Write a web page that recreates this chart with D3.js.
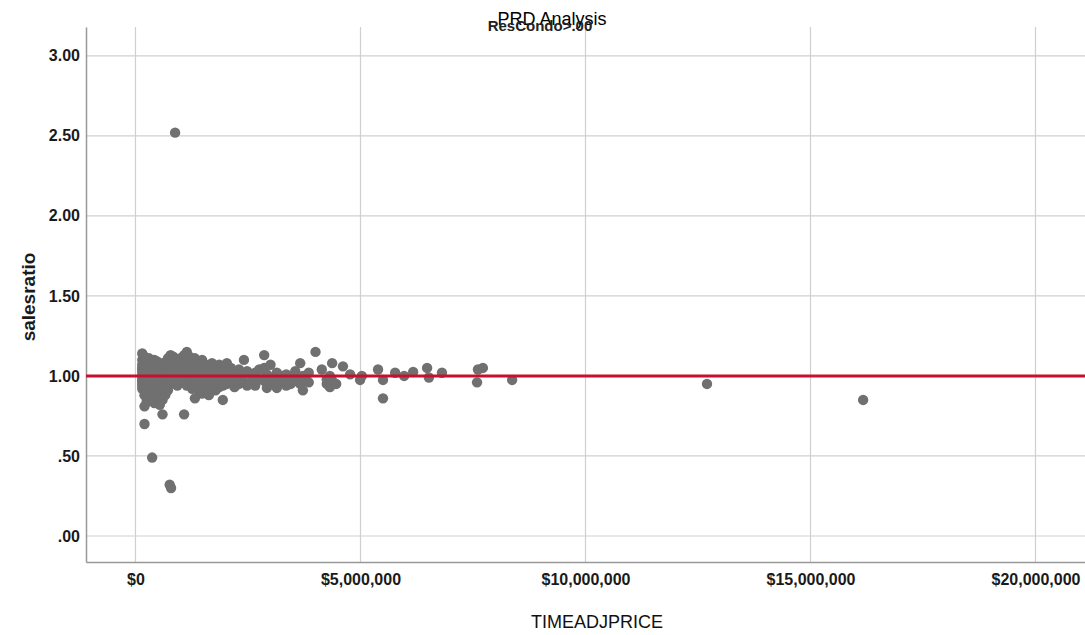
<!DOCTYPE html>
<html>
<head>
<meta charset="utf-8">
<script src="https://cdn.jsdelivr.net/npm/d3@7"></script>
<style>
  html, body { margin: 0; padding: 0; background: #ffffff; }
  svg { display: block; font-family: "Liberation Sans", Arial, sans-serif; }
</style>
</head>
<body>
<svg id="chart" width="1085" height="635"></svg>
<script>
// Sale price (time adjusted, millions of $) and sales ratio for each sale
const priceM = [
  0.15,0.15,0.15,0.15,0.15,0.15,0.15,0.15,0.15,0.15,0.15,0.15,
  0.20,0.20,0.20,0.20,0.20,0.20,0.20,0.20,0.20,0.20,0.20,
  0.25,0.25,0.25,0.25,0.25,0.25,0.25,0.25,0.25,
  0.30,0.30,0.30,0.30,0.30,0.30,0.30,0.30,
  0.37,0.37,0.37,0.37,0.37,0.37,0.37,0.37,0.37,
  0.42,0.42,0.42,0.42,0.42,0.42,0.42,
  0.48,0.48,0.48,0.48,0.48,0.48,0.48,
  0.54,0.54,0.54,0.54,0.54,0.54,0.54,
  0.60,0.60,0.60,0.60,0.60,0.60,0.60,
  0.66,0.66,0.66,0.66,0.66,
  0.72,0.72,0.72,0.72,0.72,
  0.78,0.78,0.78,0.78,0.78,0.76,0.79,
  0.84,0.84,0.84,0.84,0.84,
  0.88,0.88,0.88,0.88,
  0.93,0.93,0.93,0.93,0.93,
  1.00,1.00,1.00,1.00,1.00,
  1.08,1.08,1.08,1.08,1.08,
  1.14,1.14,1.14,1.14,1.14,
  1.20,1.20,1.20,1.20,1.20,
  1.26,1.26,1.26,1.26,1.26,
  1.32,1.32,1.32,1.32,1.32,1.32,
  1.40,1.40,1.40,1.40,1.40,
  1.48,1.48,1.48,1.48,1.48,
  1.56,1.56,1.56,1.56,
  1.63,1.63,1.63,1.63,1.63,
  1.70,1.70,1.70,1.70,
  1.78,1.78,1.78,1.78,
  1.86,1.86,1.86,1.86,
  1.94,1.94,1.94,1.94,
  2.03,2.03,2.03,2.03,
  2.12,2.12,2.12,
  2.20,2.20,2.20,
  2.30,2.30,2.30,
  2.41,2.41,2.41,
  2.48,2.48,
  2.58,2.58,
  2.66,2.66,
  2.75,2.75,
  2.86,2.86,2.86,
  2.92,2.92,
  3.00,3.00,3.00,
  3.14,3.14,3.14,
  3.25,3.25,
  3.35,3.35,
  3.45,3.45,
  3.55,3.55,
  3.66,3.66,3.66,
  3.72,3.72,
  3.85,3.85,
  4.00,
  4.14,
  4.25,4.25,
  4.32,4.32,
  4.37,4.37,
  4.46,
  4.61,
  4.77,
  4.99,5.03,
  5.39,5.50,5.50,5.77,5.97,6.17,6.48,6.52,6.81,
  7.59,7.61,7.72,8.37,
  12.70,16.17
];
const salesRatio = [
  1.14,1.10,1.07,1.04,1.02,1.00,0.98,0.96,0.94,0.92,0.97,1.05,
  1.12,1.08,1.05,1.01,0.99,0.95,0.91,0.88,0.81,0.70,1.03,
  1.09,1.06,1.03,1.00,0.97,0.93,0.90,0.86,0.84,
  1.11,1.07,1.02,0.98,0.95,0.92,0.89,1.04,
  1.08,1.05,1.01,0.97,0.94,0.90,0.87,0.85,0.49,
  1.10,1.04,1.00,0.96,0.93,0.88,0.83,
  1.09,1.06,1.02,0.99,0.95,0.91,0.86,
  1.07,1.03,0.98,0.94,0.89,0.82,0.87,
  1.08,1.04,1.00,0.96,0.92,0.76,0.85,
  1.06,1.02,0.97,0.93,0.88,
  1.11,1.05,1.00,0.96,0.91,
  1.13,1.07,1.03,0.98,0.95,0.32,0.30,
  1.12,1.08,1.04,1.00,0.97,
  2.52,1.10,1.02,0.95,
  1.09,1.05,1.01,0.98,0.94,
  1.11,1.06,1.03,0.99,0.96,
  1.13,1.07,1.00,0.97,0.76,
  1.15,1.10,1.04,0.98,0.94,
  1.12,1.08,1.02,0.99,0.95,
  1.09,1.05,1.00,0.96,0.92,
  1.11,1.06,1.01,0.97,0.93,0.86,
  1.08,1.04,1.00,0.95,0.91,
  1.10,1.05,0.99,0.94,0.89,
  1.07,1.03,0.98,0.93,
  1.06,1.01,0.97,0.92,0.88,
  1.08,1.03,0.99,0.95,
  1.05,1.00,0.96,0.91,
  1.07,1.02,0.97,0.93,
  1.04,0.99,0.94,0.85,
  1.08,1.03,0.98,0.95,
  1.05,1.00,0.96,
  1.02,0.97,0.93,
  1.04,0.99,0.95,
  1.10,1.01,0.96,
  1.03,0.94,
  1.00,0.96,
  0.94,1.02,
  1.04,0.98,
  1.13,1.05,0.97,
  0.925,1.01,
  1.07,0.99,0.95,
  0.925,1.02,0.98,
  1.00,0.96,
  0.94,1.01,
  0.98,0.95,
  1.03,0.97,
  1.08,0.99,0.95,
  0.91,1.00,
  0.96,1.02,
  1.15,
  1.04,
  0.98,0.95,
  0.93,1.00,
  1.08,0.97,
  0.95,
  1.06,
  1.01,
  0.975,1.00,
  1.04,0.975,0.86,1.02,1.00,1.025,1.05,0.99,1.02,
  0.96,1.04,1.05,0.975,
  0.95,0.85
];

// Axis ticks and reference line
const xTicks = [0, 5000000, 10000000, 15000000, 20000000];
const yTicks = [0, 0.5, 1.0, 1.5, 2.0, 2.5, 3.0];
const refLine = [1.0];

const titleText = "PRD Analysis";
const subtitleText = "ResCondo>.00";
const xLabel = "TIMEADJPRICE";
const yLabel = "salesratio";

const points = priceM.map((p, i) => ({ price: p * 1e6, ratio: salesRatio[i] }));

const svg = d3.select("#chart");

const plot = { left: 86, right: 1085, top: 27, bottom: 562 };

const x = d3.scaleLinear().domain([-1.1e6, 21.1e6]).range([plot.left, plot.right]);
const y = d3.scaleLinear().domain([-0.1625, 3.18]).range([plot.bottom, plot.top]);

const gridColor = "#cfcfcf";

// Gridlines
svg.append("g").selectAll("line").data(xTicks).join("line")
  .attr("x1", d => x(d)).attr("x2", d => x(d))
  .attr("y1", plot.top).attr("y2", plot.bottom)
  .attr("stroke", gridColor).attr("stroke-width", 1.2);

svg.append("g").selectAll("line").data(yTicks).join("line")
  .attr("x1", plot.left).attr("x2", plot.right)
  .attr("y1", d => y(d)).attr("y2", d => y(d))
  .attr("stroke", gridColor).attr("stroke-width", 1.2);

// Axes: domain lines plus tick labels, no tick marks
const fmtY = v => d3.format(".2f")(v).replace(/^0/, "");
const fmtX = v => "$" + d3.format(",")(v);

const xAxis = svg.append("g")
  .attr("transform", `translate(0,${plot.bottom})`)
  .call(d3.axisBottom(x).tickValues(xTicks).tickFormat(fmtX).tickSize(0).tickPadding(12));
xAxis.select(".domain").attr("stroke", "#999").attr("stroke-width", 1.5);
xAxis.selectAll("text")
  .attr("font-size", 16).attr("font-weight", "bold").attr("fill", "#1a1a1a")
  .attr("font-family", "'Liberation Sans', Arial, sans-serif");

const yAxis = svg.append("g")
  .attr("transform", `translate(${plot.left},0)`)
  .call(d3.axisLeft(y).tickValues(yTicks).tickFormat(fmtY).tickSize(0).tickPadding(6));
yAxis.select(".domain").attr("stroke", "#999").attr("stroke-width", 1.5);
yAxis.selectAll("text")
  .attr("font-size", 16).attr("font-weight", "bold").attr("fill", "#1a1a1a")
  .attr("font-family", "'Liberation Sans', Arial, sans-serif");

// Scatter points
svg.append("g").selectAll("circle").data(points).join("circle")
  .attr("cx", d => x(d.price))
  .attr("cy", d => y(d.ratio))
  .attr("r", 5.2)
  .attr("fill", "#707070");

// Reference line at ratio 1.00
svg.append("g").selectAll("line").data(refLine).join("line")
  .attr("x1", plot.left).attr("x2", plot.right)
  .attr("y1", d => y(d)).attr("y2", d => y(d))
  .attr("stroke", "#c8102e").attr("stroke-width", 3);

// Titles (subtitle sits just under the main title, as in the SPSS layout)
svg.append("text")
  .attr("x", 552).attr("y", 25)
  .attr("text-anchor", "middle")
  .attr("font-size", 18).attr("fill", "#000")
  .text(titleText);

svg.append("text")
  .attr("x", 540).attr("y", 31)
  .attr("text-anchor", "middle")
  .attr("font-size", 15).attr("font-weight", "bold").attr("fill", "#222")
  .text(subtitleText);

svg.append("text")
  .attr("x", 597).attr("y", 628)
  .attr("text-anchor", "middle")
  .attr("font-size", 18).attr("fill", "#111")
  .text(xLabel);

svg.append("text")
  .attr("transform", "translate(35,297) rotate(-90)")
  .attr("text-anchor", "middle")
  .attr("font-size", 19).attr("font-weight", "bold").attr("fill", "#1a1a1a")
  .text(yLabel);
</script>
</body>
</html>
